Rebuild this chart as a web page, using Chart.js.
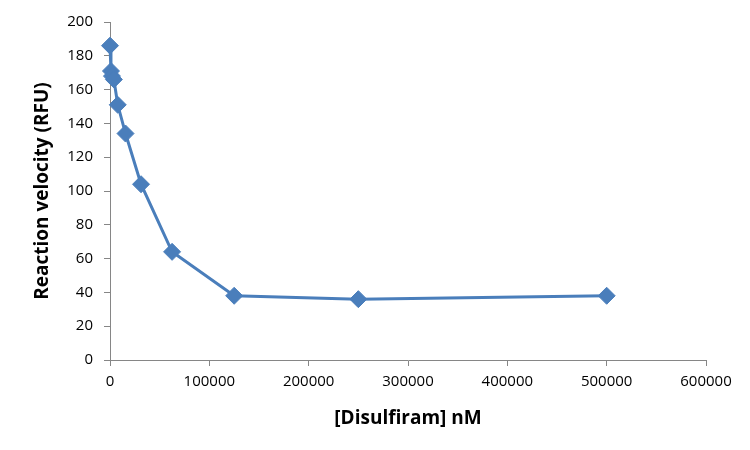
<!DOCTYPE html>
<html>
<head>
<meta charset="utf-8">
<script src="https://cdn.jsdelivr.net/npm/chart.js@4/dist/chart.umd.min.js"></script>
<style>
  html, body { margin: 0; padding: 0; background: #fff; }
  #wrap { width: 750px; height: 450px; }
</style>
</head>
<body>
<div id="wrap"><canvas id="velocityChart"></canvas></div>
<script>
// Disulfiram concentration (nM) and measured reaction velocity (RFU)
const concentrations = [0, 977, 1953, 3906, 7813, 15625, 31250, 62500, 125000, 250000, 500000];
const velocities = [186, 171, 168, 166, 151, 134, 104, 64, 38, 36, 38];

const xTicks = [0, 100000, 200000, 300000, 400000, 500000, 600000];
const yTicks = [0, 20, 40, 60, 80, 100, 120, 140, 160, 180, 200];

const points = concentrations.map((c, i) => ({ x: c, y: velocities[i] }));
const axisGrey = "#868686";
const blue = "#4A7EBB";

const ctx = document.getElementById("velocityChart").getContext("2d");
const chart = new Chart(ctx, {
  type: "scatter",
  data: {
    datasets: [{
      data: points,
      showLine: true,
      clip: false,
      borderColor: blue,
      backgroundColor: blue,
      borderWidth: 3,
      pointStyle: "rectRot",
      pointRadius: 8.5,
      pointHoverRadius: 8.5,
      pointBorderWidth: 1,
      tension: 0,
    }],
  },
  options: {
    responsive: true,
    maintainAspectRatio: false,
    animation: false,
    layout: {
      padding: { left: 0, right: 44, top: 22, bottom: 0 },
    },
    plugins: {
      legend: { display: false },
      tooltip: { enabled: false },
    },
    scales: {
      x: {
        type: "linear",
        min: xTicks[0],
        max: xTicks[xTicks.length - 1],
        afterBuildTicks: (axis) => { axis.ticks = xTicks.map((v) => ({ value: v })); },
        afterFit: (axis) => { axis.height = 90; },
        border: { color: axisGrey, width: 1 },
        grid: { drawOnChartArea: false, color: axisGrey, tickLength: 6 },
        ticks: {
          color: "#000",
          font: { family: "'Open Sans'", size: 15 },
          maxRotation: 0,
          padding: 7,
          callback: (v) => String(v),
        },
        title: {
          display: true,
          text: "[Disulfiram] nM",
          color: "#000",
          font: { family: "'Open Sans'", size: 19, weight: "bold" },
          padding: { top: 0, bottom: 20 },
        },
      },
      y: {
        type: "linear",
        min: yTicks[0],
        max: yTicks[yTicks.length - 1],
        afterBuildTicks: (axis) => { axis.ticks = yTicks.map((v) => ({ value: v })); },
        afterFit: (axis) => { axis.width = 110; },
        border: { color: axisGrey, width: 1 },
        grid: { drawOnChartArea: false, color: axisGrey, tickLength: 6 },
        ticks: {
          color: "#000",
          font: { family: "'Open Sans'", size: 15 },
          padding: 11,
          callback: (v) => String(v),
        },
        title: {
          display: true,
          text: "Reaction velocity (RFU)",
          color: "#000",
          font: { family: "'Open Sans'", size: 19, weight: "bold" },
          padding: { top: 31, bottom: 0 },
        },
      },
    },
  },
});
</script>
</body>
</html>
